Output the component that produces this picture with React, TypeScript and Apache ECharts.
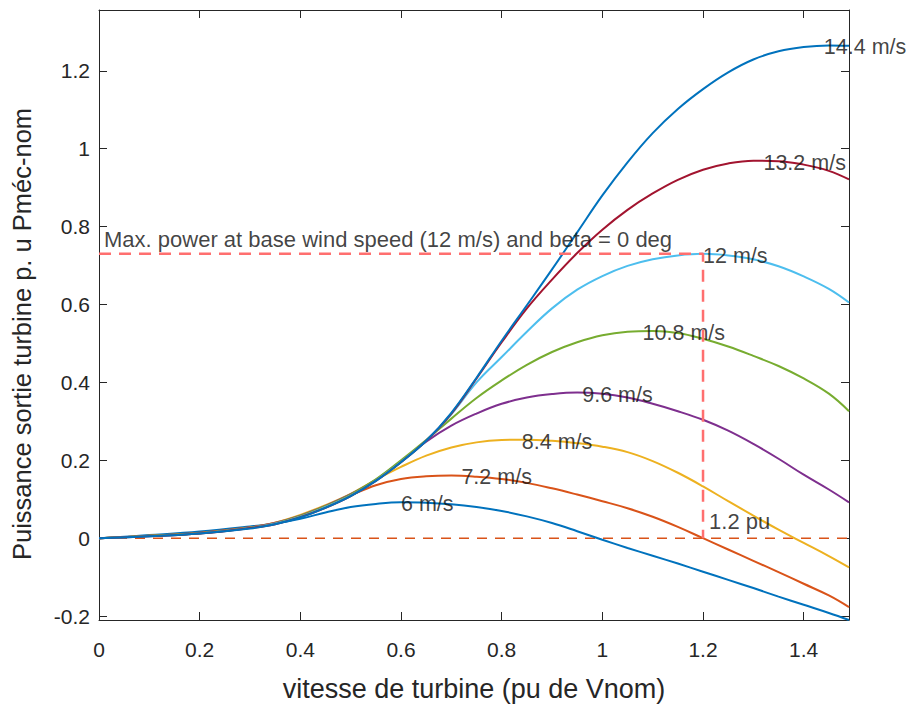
import React, { useEffect, useRef } from "react";
import * as echarts from "echarts";

// Turbine speed (pu of nominal) at which each curve is sampled
const turbineSpeed = [
  0, 0.1, 0.2, 0.3, 0.35, 0.4, 0.45, 0.5, 0.55, 0.6, 0.65, 0.7, 0.75, 0.8, 0.85,
  0.9, 0.95, 1.0, 1.05, 1.1, 1.15, 1.2, 1.25, 1.3, 1.35, 1.4, 1.45, 1.49,
];

// Turbine output power (pu of nominal mechanical power) per wind speed
const power6 = [
  0, 0.008, 0.017, 0.03, 0.038, 0.05, 0.066, 0.08, 0.088, 0.092, 0.091, 0.087,
  0.08, 0.07, 0.056, 0.039, 0.018, -0.004, -0.025, -0.045, -0.065, -0.086,
  -0.107, -0.128, -0.15, -0.171, -0.192, -0.21,
];
const power72 = [
  0, 0.006, 0.014, 0.028, 0.04, 0.058, 0.082, 0.11, 0.136, 0.152, 0.159, 0.161,
  0.158, 0.152, 0.142, 0.128, 0.112, 0.095, 0.077, 0.055, 0.029, 0.0, -0.029,
  -0.058, -0.087, -0.117, -0.147, -0.177,
];
const power84 = [
  0, 0.006, 0.013, 0.027, 0.04, 0.06, 0.085, 0.114, 0.15, 0.183, 0.212, 0.233,
  0.246, 0.252, 0.253, 0.25, 0.244, 0.235, 0.221, 0.198, 0.168, 0.133, 0.095,
  0.058, 0.022, -0.012, -0.046, -0.075,
];
const power96 = [
  0, 0.006, 0.013, 0.027, 0.039, 0.058, 0.083, 0.113, 0.15, 0.198, 0.248, 0.289,
  0.32, 0.345, 0.361, 0.37, 0.374, 0.371, 0.361, 0.345, 0.326, 0.304, 0.276,
  0.242, 0.204, 0.163, 0.125, 0.092,
];
const power108 = [
  0, 0.006, 0.013, 0.027, 0.038, 0.057, 0.082, 0.112, 0.151, 0.2, 0.252, 0.307,
  0.36, 0.405, 0.445, 0.478, 0.503, 0.521, 0.53, 0.532, 0.527, 0.512, 0.492,
  0.468, 0.442, 0.41, 0.371, 0.326,
];
const power12 = [
  0, 0.005, 0.012, 0.026, 0.037, 0.055, 0.08, 0.109, 0.148, 0.196, 0.25, 0.318,
  0.4, 0.465, 0.53, 0.59, 0.638, 0.673, 0.699, 0.716, 0.726, 0.73, 0.726, 0.716,
  0.698, 0.672, 0.64, 0.605,
];
const power132 = [
  0, 0.005, 0.012, 0.026, 0.036, 0.054, 0.078, 0.108, 0.147, 0.195, 0.25, 0.32,
  0.41, 0.503, 0.59, 0.664, 0.732, 0.792, 0.843, 0.885, 0.92, 0.946, 0.962,
  0.969, 0.968, 0.959, 0.943, 0.921,
];
const power144 = [
  0, 0.005, 0.012, 0.025, 0.036, 0.053, 0.078, 0.108, 0.147, 0.195, 0.25, 0.322,
  0.412, 0.507, 0.598, 0.69, 0.785, 0.88, 0.965, 1.04, 1.102, 1.153, 1.196,
  1.229, 1.25, 1.261, 1.265, 1.264,
];

const windNames = ["6 m/s", "7.2 m/s", "8.4 m/s", "9.6 m/s", "10.8 m/s", "12 m/s", "13.2 m/s", "14.4 m/s"];
const windLabelSpeed = [0.6, 0.72, 0.84, 0.96, 1.08, 1.2, 1.32, 1.44];
const windPowers = [power6, power72, power84, power96, power108, power12, power132, power144];
const windColors = ["#0072BD", "#D95319", "#EDB120", "#7E2F8E", "#77AC30", "#4DBEEE", "#A2142F", "#0072BD"];

const xTicks = [0, 0.2, 0.4, 0.6, 0.8, 1, 1.2, 1.4];
const yTicks = [-0.2, 0, 0.2, 0.4, 0.6, 0.8, 1, 1.2];

// Base operating point: 12 m/s curve at 1.2 pu speed
const baseSpeed = 1.2;
const basePower = Math.max(...power12);

const FONT = "Liberation Sans";
const INK = "#262626";

export default function App() {
  const ref = useRef<HTMLDivElement>(null);

  useEffect(() => {
    if (!ref.current) return;
    const chart = echarts.init(ref.current, undefined, { renderer: "svg" });
    const xMax = turbineSpeed[turbineSpeed.length - 1];
    const yMin = -0.21;
    const yMax = 1.356;
    const fmt = (v: number) => String(+Number(v).toFixed(2));

    const tickStyle = { inside: true, length: 8, lineStyle: { color: INK, width: 1 } };
    const lineStyle = { color: INK, width: 1 };

    const curves = windPowers.map((p, k) => ({
      type: "line",
      name: windNames[k],
      data: turbineSpeed.map((x, i) => [x, p[i]]),
      showSymbol: false,
      smooth: 0.4,
      lineStyle: { color: windColors[k], width: 2 },
      z: 3,
      silent: true,
    }));

    const textLabel = {
      show: true,
      position: "right",
      distance: 0,
      color: "#111",
      fontFamily: FONT,
      fontSize: 21.5,
      formatter: (pr: any) => pr.data[2],
    };

    const windLabels = {
      type: "scatter",
      symbolSize: 0,
      silent: true,
      z: 5,
      data: windPowers.map((p, k) => [windLabelSpeed[k], Math.max(...p), windNames[k]]),
      label: { ...textLabel, offset: [0, 2] },
    };

    const notes = {
      type: "scatter",
      symbolSize: 0,
      silent: true,
      z: 5,
      data: [
        [0.01, 0.767, "Max. power at base wind speed (12 m/s) and beta = 0 deg"],
        [1.212, 0.044, "1.2 pu"],
      ],
      label: { ...textLabel, fontSize: 22 },
    };

    const option: any = {
      animation: false,
      backgroundColor: "#fff",
      grid: { left: 99, right: 63, top: 10, bottom: 86 },
      graphic: [
        {
          type: "text",
          x: 22,
          y: 334,
          rotation: Math.PI / 2,
          silent: true,
          style: {
            text: "Puissance sortie turbine p. u Pméc-nom",
            fontFamily: FONT,
            fontSize: 25.5,
            fill: INK,
            align: "center",
            verticalAlign: "middle",
          },
        },
      ],
      xAxis: [
        {
          type: "value",
          min: 0,
          max: xMax,
          name: "vitesse de turbine (pu de Vnom)",
          nameLocation: "middle",
          nameGap: 55,
          nameTextStyle: { fontFamily: FONT, fontSize: 27, color: INK },
          axisLine: { show: true, onZero: false, lineStyle },
          axisTick: { ...tickStyle, customValues: xTicks },
          axisLabel: {
            customValues: xTicks,
            formatter: fmt,
            margin: 19,
            fontFamily: FONT,
            fontSize: 21,
            color: INK,
          },
          splitLine: { show: false },
        },
        {
          type: "value",
          position: "top",
          min: 0,
          max: xMax,
          axisLine: { show: true, onZero: false, lineStyle },
          axisTick: { ...tickStyle, customValues: xTicks },
          axisLabel: { show: false },
          splitLine: { show: false },
        },
      ],
      yAxis: [
        {
          type: "value",
          min: yMin,
          max: yMax,
          axisLine: { show: true, onZero: false, lineStyle },
          axisTick: { ...tickStyle, customValues: yTicks },
          axisLabel: {
            customValues: yTicks,
            formatter: fmt,
            margin: 9,
            fontFamily: FONT,
            fontSize: 21,
            color: INK,
          },
          splitLine: { show: false },
        },
        {
          type: "value",
          position: "right",
          min: yMin,
          max: yMax,
          axisLine: { show: true, onZero: false, lineStyle },
          axisTick: { ...tickStyle, customValues: yTicks },
          axisLabel: { show: false },
          splitLine: { show: false },
        },
      ],
      series: [
        {
          type: "line",
          data: [
            [0, 0],
            [xMax, 0],
          ],
          showSymbol: false,
          silent: true,
          z: 2,
          lineStyle: { color: "#D95319", width: 1.5, type: [10, 8] },
        },
        ...curves,
        {
          type: "line",
          data: [
            [0, basePower],
            [baseSpeed, basePower],
            [baseSpeed, 0],
          ],
          showSymbol: false,
          silent: true,
          z: 4,
          lineStyle: { color: "#ff6f6f", width: 2.5, type: [12, 8] },
        },
        windLabels,
        notes,
      ],
    };

    chart.setOption(option);
    return () => chart.dispose();
  }, []);

  return (
    <div
      ref={ref}
      style={{ position: "fixed", left: 0, top: 0, width: 912, height: 707, background: "#fff" }}
    />
  );
}
